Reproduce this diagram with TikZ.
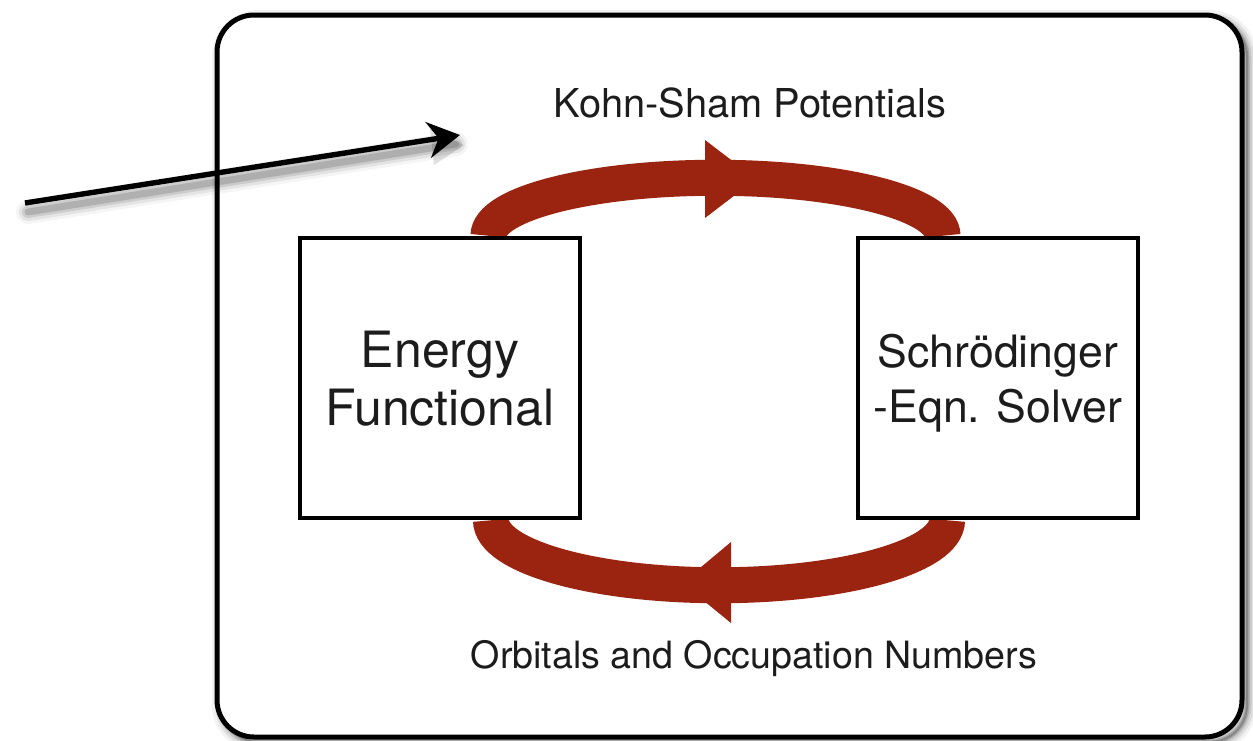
\documentclass[tikz,border=0pt]{standalone}
\usepackage{fontspec}
\setmainfont{TeX Gyre Heros}
\usetikzlibrary{arrows.meta,calc}
\definecolor{loopred}{RGB}{154,36,16}
\definecolor{inkgray}{RGB}{28,28,28}
\begin{document}
\begin{tikzpicture}[x=0.5pt,y=-0.5pt,
  block/.style={draw=black, line width=2.25pt, fill=white,
    minimum width=140pt, minimum height=140pt, inner sep=0pt,
    align=center, text depth=0pt, text=inkgray},
  caption/.style={anchor=base, inner sep=0pt, text=inkgray},
  loopband/.style={draw=loopred, line width=18pt},
  loophead/.style={fill=loopred}
]
\useasboundingbox (0,0) rectangle (1253,740);
\clip (0,0) rectangle (1253,740);

% soft shadow of the outer frame
\foreach \w/\o in {20/0.05,14/0.08,9/0.11,5/0.16,2/0.2}
  \draw[line width=\w*0.5pt, black, opacity=\o, rounded corners=18.5pt]
    (222,20) rectangle (1247,742);
% outer frame
\draw[line width=2.5pt, fill=white, rounded corners=18.5pt]
  (217,15) rectangle (1242,737);

% the two stages of the loop
\node[block, font=\fontsize{25}{29}\selectfont] (ef) at (440,378) {Energy\\Functional};
\node[block, font=\fontsize{22.3}{27.5}\selectfont] (sch) at (998,378) {Schrödinger\\-Eqn. Solver};

% red feedback bands with their mid-way heads
\draw[loopband] ($(ef.north)+(48.5,0)$)
  arc[start angle=180, end angle=0, x radius=113.5pt, y radius=29pt];
\fill[loophead] (705,140) -- (756,179) -- (705,218) -- cycle;
\draw[loopband] ($(sch.south)+(-51,0)$)
  arc[start angle=0, end angle=-180, x radius=114pt, y radius=32.5pt];
\fill[loophead] (731,542) -- (682,583) -- (731,623) -- cycle;
% boxes again on top of the band ends
\node[block, font=\fontsize{25}{29}\selectfont] at (ef) {Energy\\Functional};
\node[block, font=\fontsize{22.3}{27.5}\selectfont] at (sch) {Schrödinger\\-Eqn. Solver};

% labels
\node[caption, font=\fontsize{19.9}{23}\selectfont] (ks) at (750,117) {Kohn-Sham Potentials};
\node[caption, font=\fontsize{18.8}{23}\selectfont] (oc) at (754,668) {Orbitals and Occupation Numbers};

% pointer arrow with its shadow
\coordinate (ptail) at (25,203);
\coordinate (phead) at (460,135);
\foreach \w/\o in {24/0.04,18/0.07,12/0.10,7/0.14}
  \draw[line width=\w*0.5pt, black, opacity=\o, line cap=round]
    ($(ptail)+(3,9)$) -- ($(phead)+(-4,9)$);
\fill[black, opacity=0.12] ($(phead)+(-30,-6)$) -- ($(phead)+(4,10)$) -- ($(phead)+(-26,30)$) -- cycle;
\draw[line width=2.7pt, -{Stealth[length=16pt,width=18pt]}] (ptail) -- (phead);
\end{tikzpicture}
\end{document}
